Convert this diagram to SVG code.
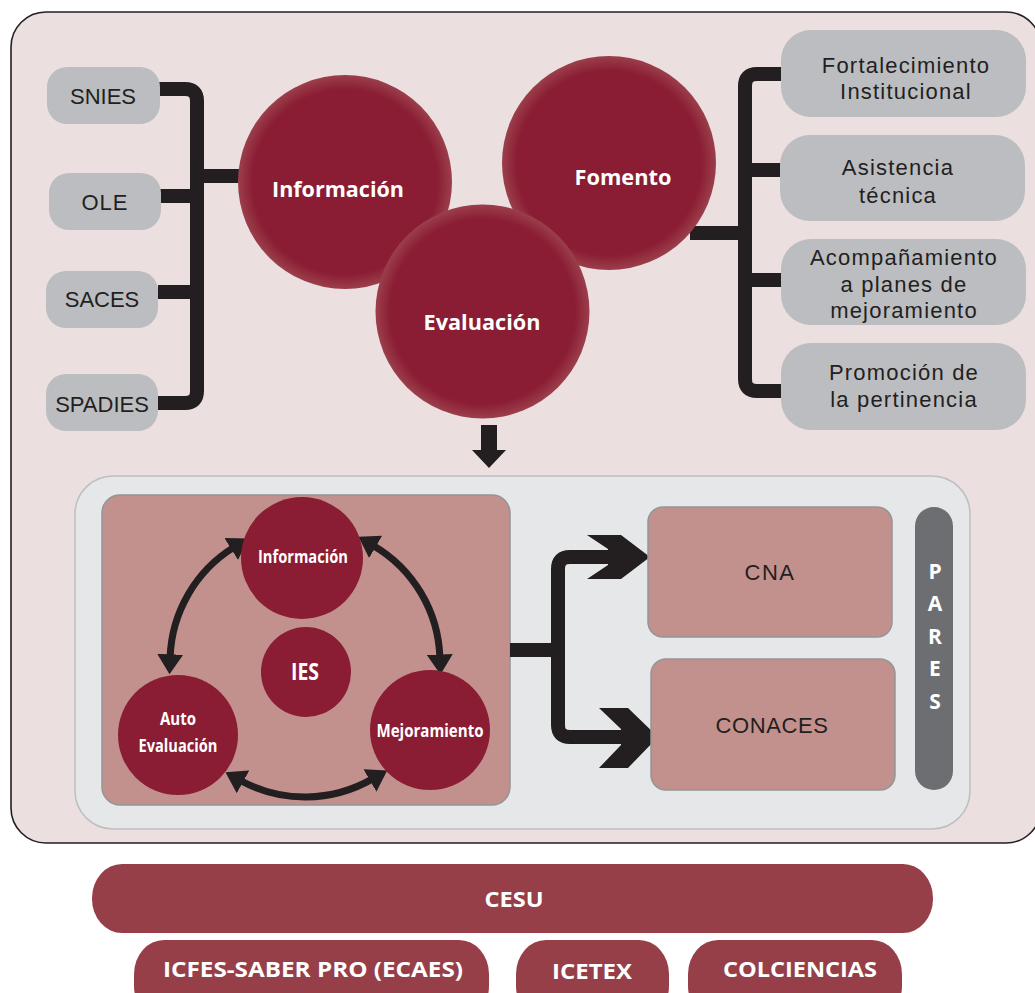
<svg xmlns="http://www.w3.org/2000/svg" width="1035" height="993" viewBox="0 0 1035 993">
<style>
.gbox{fill:#bcbdc0;}
.gt{font-family:"Liberation Sans","Open Sans",sans-serif;font-size:22px;fill:#231f20;text-anchor:middle;}
.rt{letter-spacing:1.2px;}
.wt{font-family:"Open Sans","Liberation Sans",sans-serif;font-weight:bold;fill:#ffffff;text-anchor:middle;}
.conn{fill:none;stroke:#231f20;stroke-width:14;}
.arc{fill:none;stroke:#231f20;stroke-width:7;marker-start:url(#ah);marker-end:url(#ah);}
.pbox{fill:#c2918d;stroke:#939598;stroke-width:1.5;}
.small{fill:#8a1c33;}
.bar{fill:#963f48;}
</style>
<defs>
<radialGradient id="bigc" cx="50%" cy="50%" r="50%">
<stop offset="0" stop-color="#8a1c33"/>
<stop offset="0.86" stop-color="#8a1c33"/>
<stop offset="1" stop-color="#9b3f4b"/>
</radialGradient>
<marker id="ah" markerUnits="userSpaceOnUse" viewBox="0 0 20 26" markerWidth="20" markerHeight="26" refX="3" refY="13" orient="auto-start-reverse">
<path d="M0,0 L20,13 L0,26 Z" fill="#231f20"/>
</marker>
</defs>

<g id="outer-panel">
<rect x="11" y="12" width="1030" height="831" rx="35" ry="35" fill="#ecdfdf" stroke="#231f20" stroke-width="1.6"/>
</g>

<g id="connectors">
<path class="conn" d="M158,89 H185 Q197,89 197,101 V391 Q197,403 185,403 H158"/>
<path class="conn" d="M160,196 H197"/>
<path class="conn" d="M158,292 H197"/>
<path class="conn" d="M197,176 H248"/>
<path class="conn" d="M782,74 H757 Q745,74 745,86 V379 Q745,391 757,391 H782"/>
<path class="conn" d="M745,170 H782"/>
<path class="conn" d="M745,280 H782"/>
<path class="conn" d="M690,233 H745"/>
<polygon points="481,425 497,425 497,450 506,450 489,468 472,450 481,450" fill="#231f20"/>
</g>

<g id="node-snies"><rect class="gbox" x="47" y="67" width="113" height="57" rx="20"/><text class="gt" x="103" y="104">SNIES</text></g>
<g id="node-ole"><rect class="gbox" x="49" y="173" width="112" height="57" rx="20"/><text class="gt" x="105" y="210" letter-spacing="1">OLE</text></g>
<g id="node-saces"><rect class="gbox" x="46" y="271" width="112" height="57" rx="20"/><text class="gt" x="102" y="307">SACES</text></g>
<g id="node-spadies"><rect class="gbox" x="46" y="374" width="112" height="57" rx="20"/><text class="gt" x="102" y="412">SPADIES</text></g>

<g id="node-fortalecimiento"><rect class="gbox" x="781" y="30" width="245" height="87" rx="30"/><text class="gt rt" x="906" y="73">Fortalecimiento</text><text class="gt rt" x="906" y="99">Institucional</text></g>
<g id="node-asistencia"><rect class="gbox" x="780" y="135" width="245" height="86" rx="30"/><text class="gt rt" x="898" y="175">Asistencia</text><text class="gt rt" x="898" y="203">técnica</text></g>
<g id="node-acompanamiento"><rect class="gbox" x="781" y="239" width="245" height="86" rx="30"/><text class="gt rt" x="904" y="265">Acompañamiento</text><text class="gt rt" x="904" y="292">a planes de</text><text class="gt rt" x="904" y="318">mejoramiento</text></g>
<g id="node-promocion"><rect class="gbox" x="781" y="343" width="245" height="87" rx="30"/><text class="gt rt" x="904" y="380">Promoción de</text><text class="gt rt" x="904" y="407">la pertinencia</text></g>

<g id="node-informacion"><circle cx="345" cy="182" r="107" fill="url(#bigc)"/><text class="wt" x="338" y="197" font-size="21" textLength="132" lengthAdjust="spacingAndGlyphs">Información</text></g>
<g id="node-fomento"><circle cx="609" cy="163" r="107" fill="url(#bigc)"/><text class="wt" x="623" y="185" font-size="21" textLength="97" lengthAdjust="spacingAndGlyphs">Fomento</text></g>
<g id="node-evaluacion"><circle cx="482.5" cy="311.5" r="107" fill="url(#bigc)"/><text class="wt" x="482" y="330" font-size="21" textLength="117" lengthAdjust="spacingAndGlyphs">Evaluación</text></g>

<g id="lower-panel">
<rect x="75" y="476" width="895" height="353" rx="38" fill="#e6e7e8" stroke="#bcbec0" stroke-width="1.5"/>
</g>

<g id="node-ies-box"><rect class="pbox" x="102" y="495" width="408" height="310" rx="18"/></g>

<g id="cycle-connectors">
<path class="arc" d="M233.7,547.4 A135,135 0 0 0 170.1,657.3"/>
<path class="arc" d="M373.1,545.4 A135,135 0 0 1 439.9,657.5"/>
<path class="arc" d="M240.4,780.5 A135,135 0 0 0 372.5,778.9"/>
</g>

<g id="node-c-informacion"><circle class="small" cx="302" cy="558" r="61"/><text class="wt" x="303" y="563" font-size="18" textLength="90" lengthAdjust="spacingAndGlyphs">Información</text></g>
<g id="node-ies"><circle class="small" cx="306" cy="672" r="45"/><text class="wt" x="305" y="680" font-size="23" textLength="28" lengthAdjust="spacingAndGlyphs">IES</text></g>
<g id="node-autoevaluacion"><circle class="small" cx="178" cy="735" r="60"/><text class="wt" x="178" y="725" font-size="18" textLength="36" lengthAdjust="spacingAndGlyphs">Auto</text><text class="wt" x="178" y="752" font-size="18" textLength="79" lengthAdjust="spacingAndGlyphs">Evaluación</text></g>
<g id="node-mejoramiento"><circle class="small" cx="430" cy="730" r="60"/><text class="wt" x="430" y="737" font-size="18" textLength="107" lengthAdjust="spacingAndGlyphs">Mejoramiento</text></g>

<g id="connectors-lower">
<path class="conn" d="M510,650 H558"/>
<path class="conn" d="M609,557 H570 Q558,557 558,569 V725 Q558,737 570,737 H622"/>
<polygon points="587,535 621,535 650,557 621,579 587,579 608,565 608,549" fill="#231f20"/>
<polygon points="599,708 628,708 658,737 628,768 599,768 621,745 621,729" fill="#231f20"/>
</g>

<g id="node-cna"><rect class="pbox" x="648" y="507" width="244" height="130" rx="15"/><text class="gt" x="770" y="580" font-size="21" letter-spacing="1.5">CNA</text></g>
<g id="node-conaces"><rect class="pbox" x="651" y="659" width="244" height="131" rx="15"/><text class="gt" x="772" y="733" font-size="21" letter-spacing="0.6">CONACES</text></g>
<g id="node-pares"><rect x="915" y="507" width="38" height="283" rx="19" fill="#6d6e71"/>
<text class="wt" x="935" y="579" font-size="21">P</text>
<text class="wt" x="935" y="611" font-size="21">A</text>
<text class="wt" x="935" y="644" font-size="21">R</text>
<text class="wt" x="935" y="676" font-size="21">E</text>
<text class="wt" x="935" y="709" font-size="21">S</text>
</g>

<g id="node-cesu"><rect class="bar" x="92" y="864" width="841" height="69" rx="30" ry="34"/><text class="wt" x="514" y="907" font-size="22" textLength="59" lengthAdjust="spacingAndGlyphs">CESU</text></g>
<g id="node-icfes"><rect class="bar" x="134" y="940" width="355" height="80" rx="30" ry="34"/><text class="wt" x="313" y="977" font-size="22" textLength="300" lengthAdjust="spacingAndGlyphs">ICFES-SABER PRO (ECAES)</text></g>
<g id="node-icetex"><rect class="bar" x="516" y="940" width="153" height="80" rx="30" ry="34"/><text class="wt" x="592" y="979" font-size="22" textLength="80" lengthAdjust="spacingAndGlyphs">ICETEX</text></g>
<g id="node-colciencias"><rect class="bar" x="688" y="940" width="214" height="80" rx="30" ry="34"/><text class="wt" x="800" y="977" font-size="22" textLength="154" lengthAdjust="spacingAndGlyphs">COLCIENCIAS</text></g>
</svg>
